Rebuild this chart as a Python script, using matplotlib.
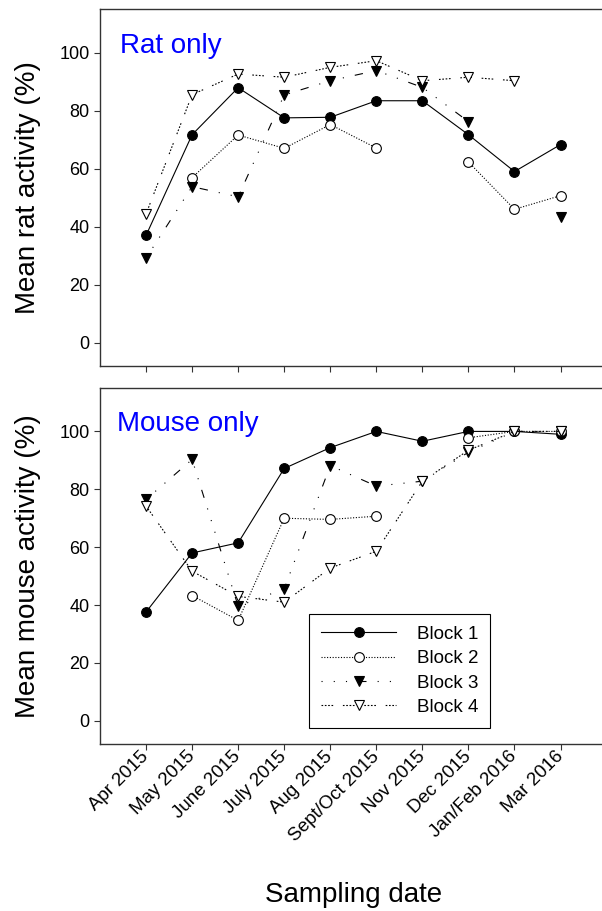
import numpy as np
import matplotlib
matplotlib.use("Agg")
import matplotlib.pyplot as plt

plt.rcParams['font.family'] = ['Liberation Sans', 'DejaVu Sans']
plt.rcParams['lines.scale_dashes'] = False

nan = np.nan

# sampling dates (x axis)
dates = ['Apr 2015', 'May 2015', 'June 2015', 'July 2015', 'Aug 2015',
         'Sept/Oct 2015', 'Nov 2015', 'Dec 2015', 'Jan/Feb 2016', 'Mar 2016']

# rat activity (%) per block
rat_b1 = [37, 71.7, 87.9, 77.5, 77.7, 83.4, 83.4, 71.7, 59, 68.3]
rat_b2 = [nan, 56.9, 71.6, 67, 75.2, 67.1, nan, 62.3, 46, 50.7]
rat_b3 = [29.2, 53.8, 50.3, 85.4, 90.3, 93.8, 88, 76.2, nan, 43.2]
rat_b4 = [44.4, 85.5, 92.6, 91.5, 94.9, 97.2, 90.3, 91.5, 90.3, nan]

# mouse activity (%) per block
mouse_b1 = [37.6, 58, 61.5, 87.2, 94.4, 100, 96.6, 100, 100, 99]
mouse_b2 = [nan, 43.3, 34.7, 70, 69.6, 70.7, nan, 97.8, 100, 100]
mouse_b3 = [76.5, 90.3, 39.6, 45.6, 88.2, 81.1, 82.8, 92.8, 100, 100]
mouse_b4 = [74.2, 51.7, 43, 41, 52.8, 58.6, 82.8, 93.5, 100, 100]

labels = ['Block 1', 'Block 2', 'Block 3', 'Block 4']

# line / marker style per block
styles = [
    dict(ls='-', marker='o', mfc='black'),
    dict(ls=(0, (0.8, 1.2)), marker='o', mfc='white'),
    dict(ls=(0, (0.8, 8, 0.8, 8, 0.8, 8, 6, 8)), marker='v', mfc='black'),
    dict(ls=(0, (1.2, 1.2, 1.2, 1.2, 1.2, 1.2, 1.2, 7)), marker='v', mfc='white'),
]

x = np.arange(1, len(dates) + 1)

fig = plt.figure(figsize=(6.02, 9.11), dpi=100)
ax1 = fig.add_axes([0.1661, 0.5982, 0.8339, 0.3919])
ax2 = fig.add_axes([0.1661, 0.1833, 0.8339, 0.3908])


def draw_panel(ax, series, title, ylabel):
    for ys, st, lab in zip(series, styles, labels):
        ax.plot(x, ys, color='black', lw=0.8, ls=st['ls'], marker=st['marker'],
                mfc=st['mfc'], mec='black', mew=0.8, ms=7, label=lab)
    ax.set_xlim(0, 10.9)
    ax.set_ylim(-8, 115)
    ax.set_yticks([0, 20, 40, 60, 80, 100])
    ax.set_xticks(x)
    ax.spines['right'].set_visible(False)
    for s in ['left', 'top', 'bottom']:
        ax.spines[s].set_color('#333333')
        ax.spines[s].set_linewidth(1.0)
    ax.tick_params(direction='out', length=4, width=0.8, labelsize=13, color='#333333')
    ax.set_ylabel(ylabel, fontsize=20)
    ax.yaxis.set_label_coords(-0.118, 0.5)
    ax.text(0.04, 0.877, title, transform=ax.transAxes, color='#0000ff',
            fontsize=20, va='baseline', ha='left')


draw_panel(ax1, [rat_b1, rat_b2, rat_b3, rat_b4], 'Rat only', 'Mean rat activity (%)')
ax1.set_xticklabels([])
draw_panel(ax2, [mouse_b1, mouse_b2, mouse_b3, mouse_b4], 'Mouse only', 'Mean mouse activity (%)')
ax2.texts[0].set_x(0.034)
ax2.texts[0].set_y(0.879)
ax2.set_xticklabels(dates, rotation=45, ha='right', va='center', rotation_mode='anchor')
ax2.tick_params(axis='x', pad=3, labelsize=13.5)

leg = ax2.legend(loc='lower left', bbox_to_anchor=(0.416, 0.045), borderaxespad=0,
                 fontsize=13.5, handlelength=4.0, handletextpad=1.1, numpoints=1,
                 labelspacing=0.38, borderpad=0.65, fancybox=False, framealpha=1,
                 edgecolor='black')
leg.get_frame().set_linewidth(0.8)

fig.text(0.587, 0.0099, 'Sampling date', fontsize=20, ha='center', va='baseline')

fig.savefig('out.png', dpi=100)
